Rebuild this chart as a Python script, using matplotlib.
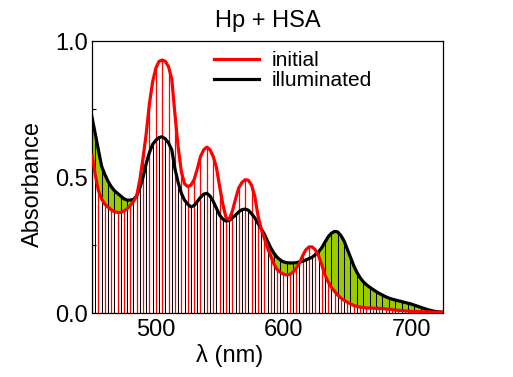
import numpy as np
import matplotlib
matplotlib.use("Agg")
import matplotlib.pyplot as plt
from matplotlib.ticker import FixedLocator

plt.rcParams['font.family'] = ['Liberation Sans', 'DejaVu Sans']

wl_start, wl_stop, wl_step = 450.0, 725.0, 2.5

initial = [
    0.58, 0.51, 0.45, 0.42, 0.40, 0.39, 0.38, 0.372, 0.37, 0.37,
    0.375, 0.383, 0.395, 0.41, 0.43, 0.49, 0.57, 0.66, 0.77, 0.85,
    0.90, 0.925, 0.93, 0.925, 0.905, 0.86, 0.73, 0.61, 0.52, 0.475,
    0.465, 0.47, 0.49, 0.53, 0.575, 0.60, 0.61, 0.60, 0.575, 0.535,
    0.465, 0.40, 0.35, 0.345, 0.375, 0.42, 0.46, 0.48, 0.49, 0.488,
    0.47, 0.43, 0.36, 0.31, 0.275, 0.24, 0.21, 0.18, 0.16, 0.15,
    0.143, 0.14, 0.142, 0.15, 0.165, 0.183, 0.21, 0.232, 0.243, 0.243,
    0.232, 0.21, 0.178, 0.14, 0.115, 0.095, 0.08, 0.066, 0.055, 0.047,
    0.04, 0.034, 0.028, 0.024, 0.022, 0.02, 0.019, 0.018, 0.018, 0.017,
    0.017, 0.016, 0.015, 0.014, 0.013, 0.011, 0.01, 0.009, 0.008, 0.007,
    0.006, 0.006, 0.005, 0.005, 0.004, 0.004, 0.004, 0.003, 0.003, 0.003,
    0.003,
]

illuminated = [
    0.72, 0.66, 0.60, 0.54, 0.51, 0.485, 0.465, 0.45, 0.44, 0.43,
    0.42, 0.415, 0.415, 0.418, 0.43, 0.46, 0.50, 0.55, 0.59, 0.62,
    0.635, 0.645, 0.648, 0.64, 0.625, 0.60, 0.53, 0.48, 0.44, 0.415,
    0.40, 0.39, 0.395, 0.41, 0.425, 0.437, 0.44, 0.43, 0.41, 0.385,
    0.36, 0.345, 0.338, 0.34, 0.35, 0.36, 0.372, 0.38, 0.382, 0.378,
    0.365, 0.35, 0.33, 0.31, 0.29, 0.265, 0.24, 0.22, 0.205, 0.195,
    0.188, 0.185, 0.184, 0.184, 0.185, 0.188, 0.19, 0.195, 0.2, 0.205,
    0.215, 0.225, 0.24, 0.26, 0.28, 0.293, 0.3, 0.298, 0.285, 0.265,
    0.235, 0.205, 0.175, 0.15, 0.13, 0.115, 0.104, 0.095, 0.087, 0.079,
    0.072, 0.066, 0.06, 0.055, 0.051, 0.048, 0.045, 0.042, 0.039, 0.036,
    0.033, 0.029, 0.025, 0.021, 0.017, 0.013, 0.01, 0.007, 0.005, 0.004,
    0.003,
]

wl = wl_start + wl_step * np.arange(len(initial))
red = np.array(initial)
blk = np.array(illuminated)

xticks = [500, 600, 700]
yticks = [0.0, 0.5, 1.0]
yminor = [0.25, 0.75]

fig = plt.figure(figsize=(5.13, 3.77), dpi=100)
ax = fig.add_axes([92/513, 1-313/377, 351/513, 272/377])

ax.fill_between(wl, red, blk, where=blk > red, interpolate=True,
                color='#99cc00', linewidth=0, zorder=1)
ax.vlines(wl[0::2], 0, red[0::2], color='#ff0000', linewidth=0.9, zorder=2)
ax.vlines(wl[1::2], 0, blk[1::2], color='black', linewidth=0.75, zorder=2)
ax.plot(wl, red, color='#ff0000', linewidth=2.3, label='initial', zorder=4)
ax.plot(wl, blk, color='black', linewidth=2.3, label='illuminated', zorder=3)

ax.set_xlim(450, 725)
ax.set_ylim(0, 1.0)
ax.set_xticks(xticks)
ax.set_yticks(yticks)
ax.set_yticklabels([f"{v:.1f}" for v in yticks])
ax.yaxis.set_minor_locator(FixedLocator(yminor))
ax.tick_params(axis='both', which='both', direction='in', labelsize=17, pad=4)
ax.tick_params(axis='x', which='major', length=0)
ax.tick_params(axis='y', which='major', length=0, pad=3)
ax.tick_params(axis='y', which='minor', length=3, width=0.8)
for s in ax.spines.values():
    s.set_linewidth(0.9)

ax.set_title('Hp + HSA', fontsize=17, pad=10)
ax.set_xlabel('λ (nm)', fontsize=17)
ax.xaxis.set_label_coords(0.393, -0.115)
ax.set_ylabel('Absorbance', fontsize=17)
ax.yaxis.set_label_coords(-0.137, 0.475)

leg = ax.legend(loc='upper left', bbox_to_anchor=(0.3476, 0.963), frameon=False,
                fontsize=15, handlelength=2.15, handletextpad=0.6,
                labelspacing=0.05, borderpad=0, borderaxespad=0)
for h in leg.get_lines():
    h.set_linewidth(2.3)

fig.savefig('out.png', dpi=100)
